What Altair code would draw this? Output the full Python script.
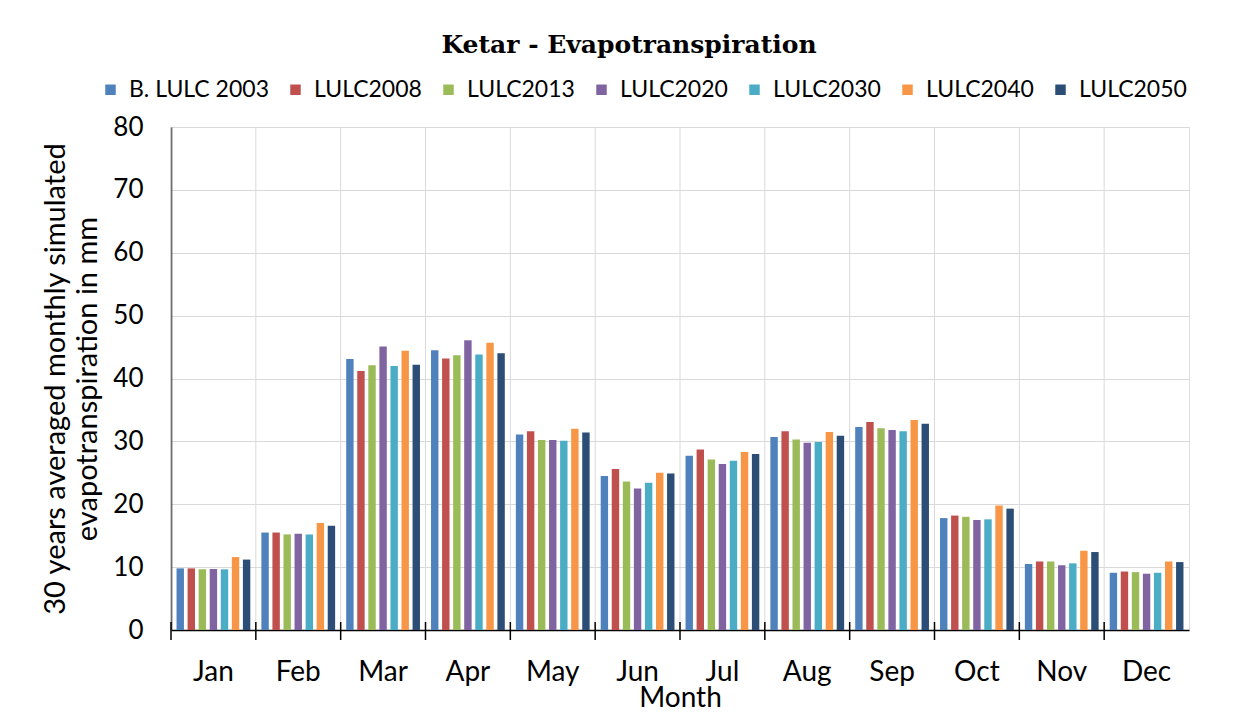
import altair as alt
import pandas as pd

months = ["Jan", "Feb", "Mar", "Apr", "May", "Jun", "Jul", "Aug", "Sep", "Oct", "Nov", "Dec"]
series = ["B. LULC 2003", "LULC2008", "LULC2013", "LULC2020", "LULC2030", "LULC2040", "LULC2050"]
colors = ["#4F81BD", "#C0504D", "#9BBB59", "#8064A2", "#4BACC6", "#F79646", "#2C4D75"]

b2003 = [9.8, 15.5, 43.1, 44.5, 31.1, 24.5, 27.7, 30.7, 32.3, 17.8, 10.5, 9.1]
l2008 = [9.8, 15.5, 41.2, 43.2, 31.6, 25.6, 28.7, 31.6, 33.1, 18.2, 10.9, 9.3]
l2013 = [9.65, 15.2, 42.1, 43.7, 30.2, 23.6, 27.1, 30.3, 32.1, 18.0, 10.9, 9.2]
l2020 = [9.7, 15.3, 45.1, 46.1, 30.2, 22.5, 26.4, 29.8, 31.8, 17.5, 10.3, 8.95]
l2030 = [9.65, 15.2, 42.0, 43.8, 30.1, 23.4, 26.9, 29.9, 31.6, 17.6, 10.6, 9.1]
l2040 = [11.6, 17.0, 44.4, 45.7, 32.0, 25.0, 28.3, 31.5, 33.4, 19.8, 12.6, 10.9]
l2050 = [11.2, 16.6, 42.2, 44.0, 31.4, 24.9, 28.0, 30.9, 32.8, 19.3, 12.4, 10.8]

values = [b2003, l2008, l2013, l2020, l2030, l2040, l2050]

rows = []
for s, vals in zip(series, values):
    for m, v in zip(months, vals):
        rows.append({"Month": m, "Series": s, "Value": v})
df = pd.DataFrame(rows)
mdf = pd.DataFrame({"Month": months})

W, H = 1018, 503
xscale = alt.Scale(domain=months, paddingInner=0, paddingOuter=0)
lab_font = "Lato"

bars = alt.Chart(df).mark_bar().encode(
    x=alt.X("Month:N", scale=xscale, sort=months,
            axis=alt.Axis(title="Month", labelAngle=0, ticks=False, grid=False,
                          bandPosition=0.5, labelAlign="center",
                          domainColor="#000000", domainWidth=1.5,
                          labelFont=lab_font, labelFontSize=28, labelColor="#000000",
                          labelPadding=42, titleFont=lab_font, titleFontSize=28,
                          titleFontWeight="normal", titleColor="#000000", titlePadding=-2)),
    xOffset=alt.XOffset("Series:N", sort=series,
                        scale=alt.Scale(paddingInner=0.33, paddingOuter=0.5)),
    y=alt.Y("Value:Q", scale=alt.Scale(domain=[0, 80]),
            axis=alt.Axis(values=list(range(0, 81, 10)), ticks=False,
                          title=["30 years averaged monthly simulated", "evapotranspiration in mm"],
                          domainColor="#000000", domainWidth=1.5, gridColor="#d9d9d9",
                          labelFont=lab_font, labelFontSize=26, labelColor="#000000",
                          labelPadding=28, titleFont=lab_font, titleFontSize=29,
                          titleFontWeight="normal", titleColor="#000000", titlePadding=10,
                          titleLineHeight=32)),
    color=alt.Color("Series:N", sort=series,
                    scale=alt.Scale(domain=series, range=colors),
                    legend=alt.Legend(title=None, orient="none", direction="horizontal",
                                      columns=7, legendX=-72, legendY=-49,
                                      symbolType="square", symbolSize=110,
                                      symbolStrokeWidth=0, labelFont=lab_font,
                                      labelFontSize=23, labelColor="#000000",
                                      columnPadding=15, labelOffset=7)),
)

grid_rules = alt.Chart(mdf).mark_rule(color="#d9d9d9", strokeWidth=1).encode(
    x=alt.X("Month:N", scale=xscale, sort=months, bandPosition=0),
    y=alt.value(0), y2=alt.value(H),
)

tick_rules = alt.Chart(mdf).mark_rule(color="#000000", strokeWidth=1.5, clip=False).encode(
    x=alt.X("Month:N", scale=xscale, sort=months, bandPosition=0),
    y=alt.value(H - 8), y2=alt.value(H + 10),
)

chart = alt.layer(grid_rules, bars, tick_rules).properties(
    width=W, height=H,
    title=alt.TitleParams("Ketar - Evapotranspiration", font="DejaVu Serif",
                          fontSize=25, fontWeight="bold", color="#000000",
                          anchor="middle", dx=-51, offset=20),
).configure_view(stroke="#d9d9d9").configure(padding={"left": 33, "top": 25, "right": 10, "bottom": 0})

chart.save("out.html", embed_options={"renderer": "svg", "actions": False})
